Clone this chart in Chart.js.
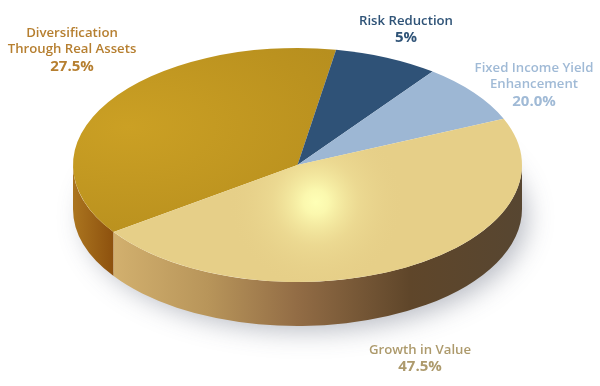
<!DOCTYPE html>
<html>
<head>
<meta charset="utf-8">
<style>
  html, body { margin: 0; padding: 0; background: #fff; }
  canvas { display: block; }
</style>
<script src="https://cdn.jsdelivr.net/npm/chart.js@4/dist/chart.umd.js"></script>
</head>
<body>
<canvas id="pie" width="600" height="386"></canvas>
<script>
// slices as drawn in the picture (degrees of the tilted pie, not the printed labels)
const categories = ['Diversification Through Real Assets', 'Risk Reduction', 'Fixed Income Yield Enhancement', 'Growth in Value'];
const sliceDegrees = [134.9, 27.1, 29.7, 168.3];
const nameLines = [['Diversification', 'Through Real Assets'], ['Risk Reduction'], ['Fixed Income Yield', 'Enhancement'], ['Growth in Value']];
const percentLabels = ['27.5%', '5%', '20.0%', '47.5%'];

const labelColors = ['#b67f30', '#2f5377', '#a0bad6', '#ad9a6c'];
const labelCentersX = [72, 406, 534, 420];
const labelTopsY = [32, 20, 67, 349];
const lineGap = 16.5;

const tilt = 117 / 224.5;
const depth = 44;

const ctx = document.getElementById('pie').getContext('2d');
const cx = 297.5, cy = 165, rx = 224.5;
const toFlat = y => cy + (y - cy) / tilt;

function topFill(i) {
  if (i === 0) {
    const g = ctx.createRadialGradient(128, toFlat(127), 0, 128, toFlat(127), 330);
    g.addColorStop(0, '#cba024');
    g.addColorStop(0.6, '#bb921f');
    g.addColorStop(1, '#b08a1e');
    return g;
  }
  if (i === 1) return '#2f5277';
  if (i === 2) return '#9db7d4';
  return '#e6cf88';
}

function wallFill(i) {
  const g = ctx.createLinearGradient(73, 0, 522, 0);
  if (i === 0) {
    g.addColorStop(0, '#ab751f');
    g.addColorStop(0.09, '#8d510e');
  } else {
    g.addColorStop(0.09, '#d2b06e');
    g.addColorStop(0.3, '#b8955a');
    g.addColorStop(0.5, '#926c45');
    g.addColorStop(0.75, '#5f462a');
    g.addColorStop(1, '#574631');
  }
  return g;
}

const tiltedPie = {
  id: 'tiltedPie',
  beforeDatasetsDraw(chart) {
    const c = chart.ctx;
    const arcs = chart.getDatasetMeta(0).data;
    const { x, y, outerRadius: r } = arcs[0];
    const ry = r * tilt;

    // soft shadow under the pie
    c.save();
    c.shadowColor = 'rgba(70,80,100,0.38)';
    c.shadowBlur = 26;
    c.shadowOffsetX = 8;
    c.shadowOffsetY = 8;
    c.fillStyle = '#fff';
    c.beginPath();
    c.ellipse(x, y + depth, r - 3, ry - 3, 0, 0, Math.PI * 2);
    c.fill();
    c.restore();

    // side walls, only the part of each slice facing the viewer
    arcs.forEach((arc, i) => {
      const two = Math.PI * 2;
      for (let k = -1; k <= 1; k++) {
        const a = Math.max(arc.startAngle, k * two);
        const b = Math.min(arc.endAngle, k * two + Math.PI);
        if (b <= a) continue;
        c.beginPath();
        c.ellipse(x, y, r, ry, 0, a, b);
        c.ellipse(x, y + depth, r, ry, 0, b, a, true);
        c.closePath();
        c.fillStyle = wallFill(i);
        c.fill();
      }
    });
  },
  beforeDatasetDraw(chart) {
    const c = chart.ctx;
    c.save();
    c.translate(cx, cy);
    c.scale(1, tilt);
    c.translate(-cx, -cy);
  },
  afterDatasetDraw(chart) {
    const c = chart.ctx;
    c.restore();

    // highlight on the big slice, round on screen so it is painted after the tilt
    const arc = chart.getDatasetMeta(0).data[3];
    c.save();
    c.beginPath();
    c.moveTo(arc.x, arc.y);
    c.ellipse(arc.x, arc.y, arc.outerRadius, arc.outerRadius * tilt, 0, arc.startAngle, arc.endAngle);
    c.closePath();
    c.clip();
    const g = c.createRadialGradient(316, 202, 0, 316, 202, 88);
    g.addColorStop(0, 'rgba(254,255,182,1)');
    g.addColorStop(0.14, 'rgba(252,250,176,0.95)');
    g.addColorStop(0.5, 'rgba(242,228,156,0.45)');
    g.addColorStop(1, 'rgba(230,207,136,0)');
    c.fillStyle = g;
    c.fillRect(228, 114, 176, 176);
    c.restore();
  },
  afterDraw(chart) {
    const c = chart.ctx;
    c.save();
    c.textAlign = 'center';
    c.textBaseline = 'middle';
    categories.forEach((name, i) => {
      let y = labelTopsY[i] + 1;
      c.fillStyle = labelColors[i];
      c.font = '600 13.2px "Open Sans"';
      nameLines[i].forEach(line => {
        c.fillText(line, labelCentersX[i], y);
        y += lineGap;
      });
      c.font = '700 15px "Open Sans"';
      c.fillText(percentLabels[i], labelCentersX[i], y + 0.5);
    });
    c.restore();
  }
};

new Chart(ctx, {
  type: 'pie',
  data: {
    labels: categories,
    datasets: [{
      data: sliceDegrees,
      backgroundColor: categories.map((_, i) => topFill(i)),
      borderWidth: 0,
      clip: false
    }]
  },
  options: {
    responsive: false,
    animation: false,
    rotation: 235,
    radius: rx,
    layout: { padding: { right: 5, bottom: 56 } },
    plugins: { legend: { display: false }, tooltip: { enabled: false } }
  },
  plugins: [tiltedPie]
});
</script>
</body>
</html>
